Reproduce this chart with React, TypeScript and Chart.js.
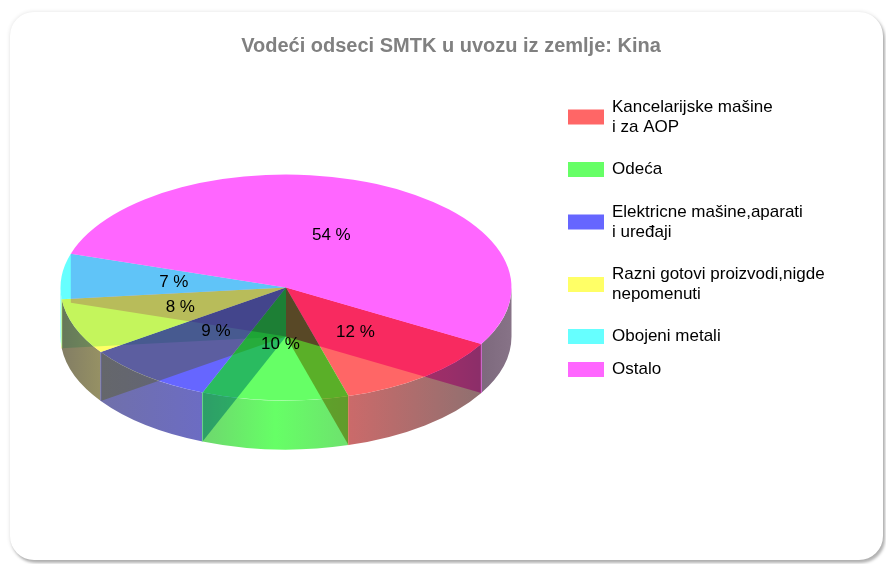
import React, { useEffect, useRef } from "react";
import { Chart, registerables } from "chart.js";

Chart.register(...registerables);

const categories = [
  "Kancelarijske mašine\ni za AOP",
  "Odeća",
  "Elektricne mašine,aparati\ni uređaji",
  "Razni gotovi proizvodi,nigde\nnepomenuti",
  "Obojeni metali",
  "Ostalo",
];
const shares = [12.2, 10.5, 9.3, 8.0, 6.5, 53.5];
const shareLabels = ["12 %", "10 %", "9 %", "8 %", "7 %", "54 %"];
const sliceColors = ["#ff6666", "#66ff66", "#6666ff", "#ffff66", "#66ffff", "#ff66ff"];
const titleText = "Vodeći odseci SMTK u uvozu iz zemlje: Kina";

// Look of the 3D pie
const CX = 286, CY = 287.5, RX = 225.5, RY = 113, DEPTH = 49;
const FONT = '"Liberation Sans", Arial, sans-serif';
const sideStops = [
  ["rgb(203,106,106)", "rgb(143,112,112)"],
  ["rgb(110,215,110)", "rgb(102,255,102)", "rgb(110,225,110)"],
  ["rgb(112,112,170)", "rgb(108,108,195)"],
  ["rgb(130,125,100)", "rgb(150,145,100)"],
  ["rgb(102,255,255)", "rgb(102,255,255)"],
  ["rgb(125,105,125)", "rgb(135,115,135)"],
];
const wallTints = [
  "rgb(248,105,240)",
  "rgb(225,175,100)",
  "rgb(105,187,240)",
  "rgb(230,235,160)",
  "rgb(196,245,230)",
  "rgb(240,196,248)",
];
const legendCentres = [117, 169.5, 222, 284.5, 336.5, 369.5];

const pie3d = {
  id: "pie3d",
  beforeDatasetsDraw(chart: any) {
    const ctx = chart.ctx;
    const arcs = chart.getDatasetMeta(0).data;
    arcs.forEach((arc: any, i: number) => {
      for (const shift of [0, Math.PI * 2, -Math.PI * 2]) {
        const a0 = Math.max(arc.startAngle + shift, 0);
        const a1 = Math.min(arc.endAngle + shift, Math.PI);
        if (a1 <= a0) continue;
        const x0 = CX + RX * Math.cos(a0);
        const x1 = CX + RX * Math.cos(a1);
        const g = ctx.createLinearGradient(Math.min(x0, x1), 0, Math.max(x0, x1), 0);
        const stops = sideStops[i];
        stops.forEach((c, k) => g.addColorStop(k / (stops.length - 1), c));
        ctx.beginPath();
        ctx.ellipse(CX, CY, RX, RY, 0, a0, a1);
        ctx.ellipse(CX, CY + DEPTH, RX, RY, 0, a1, a0, true);
        ctx.closePath();
        ctx.fillStyle = g;
        ctx.fill();
      }
    });
    const first = arcs[0];
    const r = first.outerRadius;
    ctx.save();
    ctx.translate(CX, CY);
    ctx.scale(RX / r, RY / r);
    ctx.translate(-first.x, -first.y);
  },
  afterDatasetsDraw(chart: any) {
    const ctx = chart.ctx;
    ctx.restore();
    const arcs = chart.getDatasetMeta(0).data;
    ctx.save();
    ctx.globalCompositeOperation = "multiply";
    arcs.forEach((arc: any, i: number) => {
      const ex = CX + RX * Math.cos(arc.startAngle);
      const ey = CY + RY * Math.sin(arc.startAngle);
      ctx.beginPath();
      ctx.moveTo(CX, CY);
      ctx.lineTo(ex, ey);
      ctx.lineTo(ex, ey + DEPTH);
      ctx.lineTo(CX, CY + DEPTH);
      ctx.closePath();
      ctx.fillStyle = wallTints[i];
      ctx.fill();
    });
    ctx.restore();
    // thin edge where a slice ends on the front of the pie
    arcs.forEach((arc: any, i: number) => {
      const s = Math.sin(arc.endAngle);
      if (s <= 0) return;
      const ex = CX + RX * Math.cos(arc.endAngle);
      const ey = CY + RY * s;
      ctx.beginPath();
      ctx.moveTo(ex, ey);
      ctx.lineTo(ex, ey + DEPTH);
      ctx.strokeStyle = sliceColors[i];
      ctx.lineWidth = 1;
      ctx.globalAlpha = 0.6;
      ctx.stroke();
      ctx.globalAlpha = 1;
    });
    // value labels
    ctx.fillStyle = "#000";
    ctx.textAlign = "center";
    ctx.textBaseline = "middle";
    ctx.font = `17px ${FONT}`;
    arcs.forEach((arc: any, i: number) => {
      const mid = (arc.startAngle + arc.endAngle) / 2;
      ctx.fillText(
        shareLabels[i],
        CX + 0.5 * RX * Math.cos(mid),
        CY + 0.5 * RY * Math.sin(mid)
      );
    });
    // legend
    ctx.textAlign = "left";
    categories.forEach((label, i) => {
      const y = legendCentres[i];
      ctx.fillStyle = sliceColors[i];
      ctx.fillRect(568, y - 7.5, 36, 15);
      ctx.fillStyle = "#000";
      const lines = label.split("\n");
      lines.forEach((line, k) => {
        ctx.fillText(line, 612, y + (k - (lines.length - 1) / 2) * 20);
      });
    });
  },
};

export default function App() {
  const ref = useRef<HTMLCanvasElement>(null);
  useEffect(() => {
    document.body.style.margin = "0";
    document.body.style.background = "#fff";
    const chart = new Chart(ref.current as HTMLCanvasElement, {
      type: "pie",
      data: {
        labels: categories,
        datasets: [{ data: shares, backgroundColor: sliceColors, borderWidth: 0 }],
      },
      options: {
        responsive: false,
        animation: false,
        rotation: 120,
        layout: { padding: { left: 16, right: 0, top: 34, bottom: 10 } },
        plugins: {
          legend: { display: false },
          tooltip: { enabled: false },
          title: {
            display: true,
            text: titleText,
            color: "#808080",
            font: { family: FONT, size: 20, weight: "bold" },
            padding: { top: 0, bottom: 8 },
          },
        },
      },
      plugins: [pie3d],
    } as any);
    return () => chart.destroy();
  }, []);
  return (
    <div style={{ position: "fixed", left: 0, top: 0, width: 886, height: 564, overflow: "hidden", background: "#fff" }}>
      <div
        style={{
          position: "absolute",
          left: 10,
          top: 12,
          width: 873,
          height: 548,
          borderRadius: 24,
          background: "#fff",
          boxShadow: "0 0 4px rgba(0,0,0,0.12), 2px 3px 3px rgba(0,0,0,0.28)",
        }}
      />
      <canvas
        ref={ref}
        width={886}
        height={564}
        style={{ position: "absolute", left: 0, top: 0, width: 886, height: 564, filter: "blur(0.45px)" }}
      />
    </div>
  );
}
